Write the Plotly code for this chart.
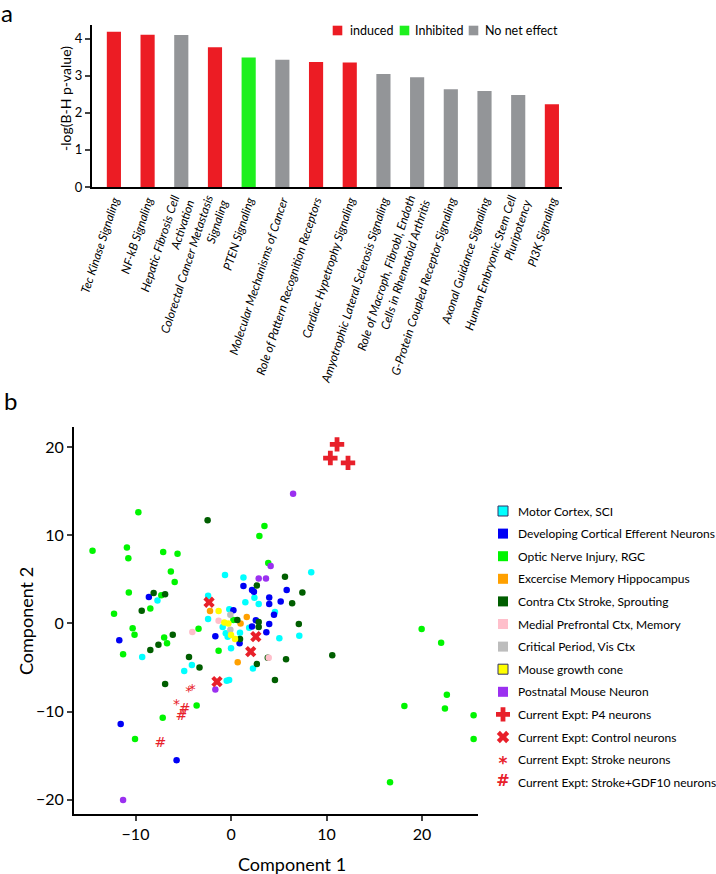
import plotly.graph_objects as go

FONT = "Lato"
GLYPH_FONT = "DejaVu Sans"

# ---------------- Panel a data ----------------
pathways = [
    "Tec Kinase Signaling",
    "NF-kB Signaling",
    "Hepatic Fibrosis Cell<br>Activation",
    "Colorectal Cancer Metastasis<br>Signaling",
    "PTEN Signaling",
    "Molecular Mechanisms of Cancer",
    "Role of Pattern Recognition Receptors",
    "Cardiac Hypetrophy Signaling",
    "Amyotrophic Lateral Sclerosis Signaling",
    "Role of Macroph, Fibrobl, Endoth<br>Cells in Rhematoid Arthritis",
    "G-Protein Coupled Receptor Signaling",
    "Axonal Guidance Signaling",
    "Human Embryonic Stem Cell<br>Pluripotency",
    "PI3K Signaling",
]
neglog_p = [4.19, 4.11, 4.10, 3.77, 3.49, 3.43, 3.37, 3.36, 3.05, 2.96, 2.64, 2.59, 2.48, 2.23]
effect = ["induced", "induced", "No net effect", "induced", "Inhibited", "No net effect",
          "induced", "induced", "No net effect", "No net effect", "No net effect",
          "No net effect", "No net effect", "induced"]
effect_names = ["induced", "Inhibited", "No net effect"]
effect_colors = ["#EC1C24", "#1EF01E", "#939598"]

# ---------------- Panel b data ----------------
motor_x = [-7.7, -0.63, 1.3, 2.45, 1.5, 2.9, -2.4, -2.4, -0.18, -0.87, -0.55, -0.35, 0.94, 5.06,
           0.0, -9.3, -4.1, -4.9, 2.3, -0.45, -0.2, 8.4, 7.15, 1.9, 4.6]
motor_y = [2.6, 5.5, 5.2, 2.9, 2.4, 2.2, 3.15, 0.5, 1.6, -0.4, -1.1, -1.5, -1.04, -1.68,
           -2.8, -3.8, -4.7, -5.4, -5.1, -6.5, -6.4, 5.8, -1.4, -0.5, 1.3]
dev_x = [-8.6, 1.3, 2.2, 2.4, 5.83, 4.0, 4.0, 5.2, 0.25, 2.6, 2.2, 4.0, 4.5, 0.9, -1.64, 3.7,
         -11.7, -11.55, -5.7]
dev_y = [3.0, 4.25, 3.8, 3.6, 3.8, 2.95, 2.2, 2.5, 1.5, 0.36, -0.35, -0.06, 1.0, -2.25, -1.45,
         -1.0, -1.9, -11.4, -15.5]
optic_x = [-14.5, -9.7, -10.9, -10.75, -7.1, -5.6, -6.3, -5.9, -10.7, -7.3, -8.45, -12.25, 2.97,
           3.5, 3.9, 0.25, -3.4, -1.3, -11.3, -10.3, -10.1, -7.0, -6.7, -3.6, -7.15, -10.05,
           19.96, 22.0, 22.6, 18.15, 22.4, 16.65, 25.4, 25.4]
optic_y = [8.25, 12.6, 8.6, 7.4, 8.1, 7.9, 5.9, 4.7, 3.5, 3.2, 1.7, 1.1, 9.9, 11.05, 6.85, 0.4,
           -0.6, -3.1, -3.5, -0.55, -1.27, -1.6, -2.25, -9.3, -10.7, -13.1, -0.62, -2.2, -8.07,
           -9.35, -9.65, -18.0, -10.4, -13.1]
exercise_x = [-2.2, 1.65, 1.0, 0.7]
exercise_y = [1.4, 0.74, 0.0, -4.4]
contra_x = [-8.1, -6.9, -9.35, -2.45, 5.65, 2.7, 6.4, 7.47, 0.66, 2.9, 2.9, 7.1, 0.94, -6.1,
            -7.6, -8.45, -4.4, -3.3, 2.7, 3.85, 5.76, 4.6, -6.9, 10.6]
contra_y = [3.45, 3.3, 1.45, 11.7, 5.3, 4.3, 2.3, 3.5, 0.4, 0.17, -0.4, -0.06, -1.75, -1.27,
            -2.4, -3.0, -3.8, -5.0, -4.6, -3.9, -4.06, -6.4, -6.86, -3.6]
medial_x = [-1.3, -4.05, 3.95]
medial_y = [0.3, -0.96, -3.9]
critical_x = [-0.07, -0.07]
critical_y = [1.0, -0.7]
cone_x = [-1.3, -0.7, -0.28, 0.0, 0.42]
cone_y = [1.4, 0.1, 0.0, -1.3, -1.75]
postnatal_x = [6.5, 4.15, 2.9, 3.66, -1.64, -11.3]
postnatal_y = [14.7, 6.5, 5.1, 5.1, -7.5, -20.0]
p4_x = [11.1, 10.4, 12.25]
p4_y = [20.3, 18.75, 18.2]
control_x = [-2.3, 2.6, 2.06, -1.47]
control_y = [2.4, -1.5, -3.2, -6.6]
stroke_x = [-5.7, -4.43, -4.05]
stroke_y = [-9.3, -7.8, -7.6]
gdf10_x = [-4.87, -5.2, -7.4]
gdf10_y = [-9.7, -10.6, -13.65]

dataset_names = ["Motor Cortex, SCI", "Developing Cortical Efferent Neurons",
                 "Optic Nerve Injury, RGC", "Excercise Memory Hippocampus",
                 "Contra Ctx Stroke, Sprouting", "Medial Prefrontal Ctx, Memory",
                 "Critical Period, Vis Ctx", "Mouse growth cone", "Postnatal Mouse Neuron"]
dataset_colors = ["#00FFFF", "#0000F5", "#00F500", "#FFA000", "#005E00", "#FFBFCB",
                  "#BDBDBD", "#FFFF00", "#9B30F0"]
dataset_outlined = [True, False, False, False, False, False, False, True, False]
dataset_xs = [motor_x, dev_x, optic_x, exercise_x, contra_x, medial_x, critical_x, cone_x,
              postnatal_x]
dataset_ys = [motor_y, dev_y, optic_y, exercise_y, contra_y, medial_y, critical_y, cone_y,
              postnatal_y]
expt_names = ["Current Expt: P4 neurons", "Current Expt: Control neurons",
              "Current Expt: Stroke neurons", "Current Expt: Stroke+GDF10 neurons"]
RED = "#E8202A"

W, H = 716, 874


def px(v):
    return v / W


def py(v):
    return 1 - v / H


fig = go.Figure()

# ---- Panel a bars (one trace per effect) ----
for name, col in zip(effect_names, effect_colors):
    xs = [p for p, e in zip(pathways, effect) if e == name]
    ys = [v for v, e in zip(neglog_p, effect) if e == name]
    fig.add_trace(go.Bar(x=xs, y=ys, name=name, marker=dict(color=col, line=dict(width=0)),
                         width=0.42, xaxis="x", yaxis="y", showlegend=False))

# ---- Panel b scatter ----
for xs, ys, col in zip(dataset_xs, dataset_ys, dataset_colors):
    fig.add_trace(go.Scatter(x=xs, y=ys, mode="markers", showlegend=False,
                             marker=dict(color=col, size=6.5, line=dict(width=0)),
                             xaxis="x2", yaxis="y2"))
fig.add_trace(go.Scatter(x=p4_x, y=p4_y, mode="markers", showlegend=False,
                         marker=dict(symbol="cross", color=RED, size=12, line=dict(width=0)),
                         xaxis="x2", yaxis="y2"))
fig.add_trace(go.Scatter(x=control_x, y=control_y, mode="markers", showlegend=False,
                         marker=dict(symbol="x", color=RED, size=10, line=dict(width=0)),
                         xaxis="x2", yaxis="y2"))
fig.add_trace(go.Scatter(x=stroke_x, y=stroke_y, mode="text", text=["*"] * len(stroke_x),
                         textfont=dict(color=RED, size=14, family=GLYPH_FONT), showlegend=False,
                         textposition="middle center", xaxis="x2", yaxis="y2"))
fig.add_trace(go.Scatter(x=gdf10_x, y=gdf10_y, mode="text", text=["#"] * len(gdf10_x),
                         textfont=dict(color=RED, size=14, family=GLYPH_FONT), showlegend=False,
                         textposition="middle center", xaxis="x2", yaxis="y2"))

# ---- Panel b legend keys (row index on a hidden axis) ----
n_ds = len(dataset_names)
fig.add_trace(go.Scatter(
    x=[0.5] * n_ds, y=list(range(n_ds)), mode="markers", showlegend=False, hoverinfo="skip",
    marker=dict(symbol="square", color=dataset_colors, size=10,
                line=dict(width=[1 if o else 0 for o in dataset_outlined], color="#333366")),
    xaxis="x3", yaxis="y3"))
fig.add_trace(go.Scatter(x=[0.5], y=[n_ds], mode="markers", showlegend=False, hoverinfo="skip",
                         marker=dict(symbol="cross", color=RED, size=12, line=dict(width=0)),
                         xaxis="x3", yaxis="y3"))
fig.add_trace(go.Scatter(x=[0.5], y=[n_ds + 1], mode="markers", showlegend=False,
                         hoverinfo="skip",
                         marker=dict(symbol="x", color=RED, size=11, line=dict(width=0)),
                         xaxis="x3", yaxis="y3"))
fig.add_trace(go.Scatter(x=[0.5], y=[n_ds + 2.25], mode="text", text=["*"], showlegend=False,
                         hoverinfo="skip", textposition="middle center",
                         textfont=dict(color=RED, size=17, family=GLYPH_FONT, weight="bold"),
                         xaxis="x3", yaxis="y3"))
fig.add_trace(go.Scatter(x=[0.5], y=[n_ds + 3], mode="text", text=["#"], showlegend=False,
                         hoverinfo="skip", textposition="middle center",
                         textfont=dict(color=RED, size=16, family=GLYPH_FONT, weight="bold"),
                         xaxis="x3", yaxis="y3"))

all_legend_names = dataset_names + expt_names
n_leg = len(all_legend_names)
row0, row_step = 511, 22.6
leg_top = row0 - row_step / 2
leg_bot = row0 + row_step * (n_leg - 0.5)

annotations = []
for i, name in enumerate(all_legend_names):
    annotations.append(dict(text=name, x=px(516), y=i, xref="paper", yref="y3",
                            showarrow=False, xanchor="left", yanchor="middle",
                            font=dict(size=12)))

# ---- Panel a legend (squares + labels) ----
bar_leg_centers = [337.5, 404.5, 473.5]
bar_leg_text_x = [348, 413, 483]
shapes = []
for cx, tx, name, col in zip(bar_leg_centers, bar_leg_text_x, effect_names, effect_colors):
    shapes.append(dict(type="rect", xref="paper", yref="paper", x0=px(cx - 4.8),
                       x1=px(cx + 4.8), y0=py(35.3), y1=py(25.7), fillcolor=col,
                       line=dict(width=0)))
    annotations.append(dict(text=name, x=px(tx), y=py(30.5), xref="paper", yref="paper",
                            showarrow=False, xanchor="left", yanchor="middle",
                            font=dict(size=12.5)))

annotations += [
    dict(text="a", x=px(7), y=py(0), xref="paper", yref="paper", showarrow=False,
         font=dict(size=24), xanchor="center", yanchor="top", yshift=4),
    dict(text="b", x=px(10), y=py(400), xref="paper", yref="paper", showarrow=False,
         font=dict(size=24), xanchor="center", yanchor="middle"),
    dict(text="-log(B-H p-value)", x=px(65), y=py(99), xref="paper", yref="paper",
         showarrow=False, textangle=-90, font=dict(size=14), xanchor="center",
         yanchor="middle"),
    dict(text="Component 1", x=px(292), y=py(864), xref="paper", yref="paper",
         showarrow=False, font=dict(size=18), xanchor="center", yanchor="middle"),
    dict(text="Component 2", x=px(26), y=py(621), xref="paper", yref="paper",
         showarrow=False, textangle=-90, font=dict(size=18), xanchor="center",
         yanchor="middle"),
]

axis_common = dict(showline=True, linecolor="black", linewidth=2, showgrid=False,
                   zeroline=False, mirror=False, automargin=False)

fig.update_layout(
    template="none",
    width=W, height=H, margin=dict(l=0, r=0, t=0, b=0, pad=0, autoexpand=False),
    paper_bgcolor="white", plot_bgcolor="rgba(0,0,0,0)",
    font=dict(family=FONT, color="black"),
    barmode="overlay", showlegend=False, hovermode="closest",
    xaxis=dict(domain=[px(92), px(562)], anchor="y", type="category",
               categoryorder="array", categoryarray=pathways, range=[-0.65, 13.3],
               tickangle=-72, ticks="", tickfont=dict(size=12, style="italic"),
               **axis_common),
    yaxis=dict(domain=[py(187), py(25)], anchor="x", range=[0, 4.37], tickvals=[0, 1, 2, 3, 4],
               ticks="outside", ticklen=5, tickwidth=1.5, tickfont=dict(size=13),
               **axis_common),
    xaxis2=dict(domain=[px(74), px(478)], anchor="y2", range=[-16.44, 25.86],
                tickvals=[-10, 0, 10, 20], ticks="outside", ticklen=5, tickwidth=1.5,
                tickfont=dict(size=16), **axis_common),
    yaxis2=dict(domain=[py(814), py(427)], anchor="x2", range=[-21.6, 22.27],
                tickvals=[-20, -10, 0, 10, 20], ticks="outside", ticklen=5, tickwidth=1.5,
                tickfont=dict(size=16), **axis_common),
    xaxis3=dict(domain=[px(496), px(510)], anchor="y3", range=[0, 1], visible=False,
                fixedrange=True),
    yaxis3=dict(domain=[py(leg_bot), py(leg_top)], anchor="x3",
                range=[n_leg - 0.5, -0.5], visible=False, fixedrange=True),
    shapes=shapes,
    annotations=annotations,
)

fig.write_html("out.html", config={"displayModeBar": False},
               post_script="document.body.style.margin='0';document.body.style.padding='0';")
